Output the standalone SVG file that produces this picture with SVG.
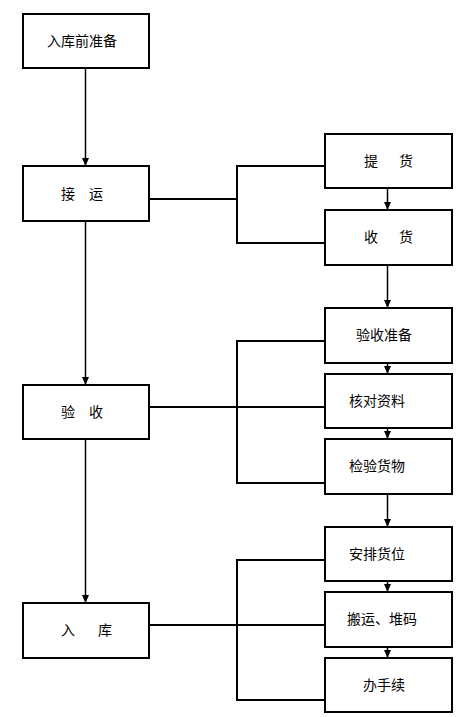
<svg xmlns="http://www.w3.org/2000/svg" width="473" height="717" viewBox="0 0 473 717">
<style>
.box{fill:#fff;stroke:#000;stroke-width:2}
.t{font-family:"Noto Sans CJK SC","Liberation Sans",sans-serif;font-size:14px;fill:#000}
.ln{fill:none;stroke:#000;stroke-width:2}
.ar{fill:none;stroke:#000;stroke-width:1.5;marker-end:url(#ah)}
</style>
<defs>
<marker id="ah" markerUnits="userSpaceOnUse" markerWidth="9" markerHeight="8" refX="8" refY="3.5" orient="auto">
<path d="M0,0 L8,3.5 L0,7 z" fill="#000"/>
</marker>
</defs>
<rect width="473" height="717" fill="#fff"/>
<g id="connectors">
<line class="ar" x1="85.5" y1="68" x2="85.5" y2="166"/>
<line class="ar" x1="85.5" y1="221" x2="85.5" y2="385"/>
<line class="ar" x1="85.5" y1="439" x2="85.5" y2="603"/>
<line class="ar" x1="387.5" y1="188" x2="387.5" y2="210"/>
<line class="ar" x1="387.5" y1="265" x2="387.5" y2="308"/>
<line class="ar" x1="387.5" y1="363" x2="387.5" y2="374"/>
<line class="ar" x1="387.5" y1="428" x2="387.5" y2="439"/>
<line class="ar" x1="387.5" y1="494" x2="387.5" y2="527"/>
<line class="ar" x1="387.5" y1="581" x2="387.5" y2="592"/>
<line class="ar" x1="387.5" y1="647" x2="387.5" y2="658"/>
<path class="ln" d="M149,199 H237"/>
<path class="ln" d="M325,166 H237 V243 H325"/>
<path class="ln" d="M149,407 H325"/>
<path class="ln" d="M325,341 H237 V483 H325"/>
<path class="ln" d="M149,625 H325"/>
<path class="ln" d="M325,560 H237 V700 H325"/>
</g>
<g id="n1"><rect class="box" x="23" y="14" width="126" height="54"/><text class="t" x="47" y="46">入库前准备</text></g>
<g id="n2"><rect class="box" x="23" y="166" width="126" height="55"/><text class="t" x="61" y="199">接　运</text></g>
<g id="n3"><rect class="box" x="23" y="385" width="126" height="54"/><text class="t" x="61" y="417">验　收</text></g>
<g id="n4"><rect class="box" x="23" y="603" width="126" height="55"/><text class="t" x="61" y="635" letter-spacing="-1.7">入　　库</text></g>
<g id="r1"><rect class="box" x="325" y="134" width="127" height="54"/><text class="t" x="364" y="166" letter-spacing="3.5">提　货</text></g>
<g id="r2"><rect class="box" x="325" y="210" width="127" height="55"/><text class="t" x="364" y="242" letter-spacing="3.5">收　货</text></g>
<g id="r3"><rect class="box" x="325" y="308" width="127" height="55"/><text class="t" x="356" y="340">验收准备</text></g>
<g id="r4"><rect class="box" x="325" y="374" width="127" height="54"/><text class="t" x="349" y="406">核对资料</text></g>
<g id="r5"><rect class="box" x="325" y="439" width="127" height="55"/><text class="t" x="349" y="471">检验货物</text></g>
<g id="r6"><rect class="box" x="325" y="527" width="127" height="54"/><text class="t" x="349" y="559">安排货位</text></g>
<g id="r7"><rect class="box" x="325" y="592" width="127" height="55"/><text class="t" x="347" y="624">搬运、堆码</text></g>
<g id="r8"><rect class="box" x="325" y="658" width="127" height="54"/><text class="t" x="363" y="690">办手续</text></g>
</svg>
